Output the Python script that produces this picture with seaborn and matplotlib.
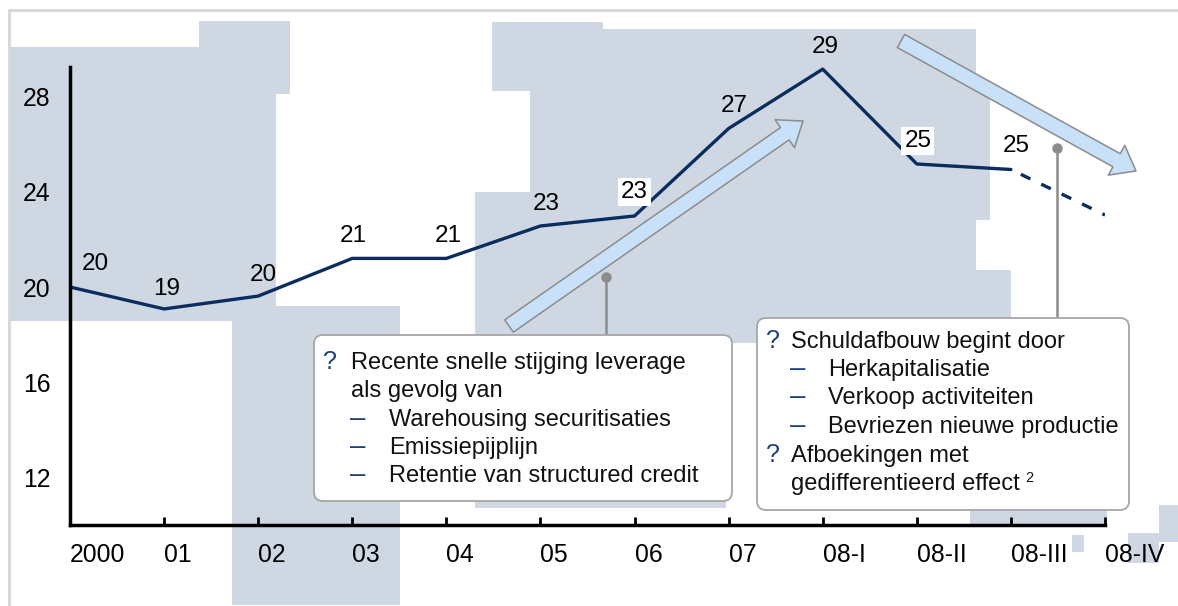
import matplotlib
matplotlib.use("Agg")
import matplotlib.pyplot as plt
import pandas as pd
import seaborn as sns
from matplotlib.lines import Line2D
from matplotlib.patches import FancyArrowPatch, FancyBboxPatch, Rectangle
from matplotlib.text import Annotation
from matplotlib.transforms import Affine2D

# --- data -------------------------------------------------------------
periods = ["2000", "01", "02", "03", "04", "05", "06", "07", "08-I", "08-II", "08-III", "08-IV"]
leverage = [20.0, 19.08, 19.62, 21.2, 21.2, 22.56, 22.98, 26.65, 29.14, 25.16, 24.93, 23.02]
value_labels = ["20", "19", "20", "21", "21", "23", "23", "27", "29", "25", "25", None]
forecast_start = 10  # 08-III -> 08-IV is projected (dashed)
y_ticks = [12, 16, 20, 24, 28]

rise_heading = ["Recente snelle stijging leverage", "als gevolg van"]
rise_items = ["Warehousing securitisaties", "Emissiepijplijn", "Retentie van structured credit"]
deleverage_heading = "Schuldafbouw begint door"
deleverage_items = ["Herkapitalisatie", "Verkoop activiteiten", "Bevriezen nieuwe productie"]
writeoff_heading = ["Afboekingen met", "gedifferentieerd effect"]
writeoff_note = "2"

# --- styling ------------------------------------------------------------
NAVY = "#0B2C5F"
BULLET = "#1C3E7C"
PATCH = "#CFD8E2"
ARROW_FILL = "#C8E0F8"
ARROW_EDGE = "#8C8C8C"
FS = 17

# label offsets in pixels (dx right, dy up) and which labels get a white backing
label_offsets = [(25, 23), (3, 20), (5, 21), (1, 22), (2, 22), (6, 22), (0, 24), (6, 22), (3, 22), (1, 23), (5, 23)]
white_labels = {6, 9}

# light grey-blue blocks behind the chart (x0, y0, x1, y1 in image pixels, top-left origin)
BG_BLOCKS = [
    (10, 47, 232, 321), (199, 21, 290, 94), (199, 94, 276, 321),
    (232, 321, 276, 605), (276, 306, 400, 605),
    (492, 22, 603, 91), (603, 29, 976, 91), (530, 91, 976, 343),
    (475, 192, 530, 508), (475, 343, 726, 508),
    (976, 90, 990, 220), (976, 270, 1011, 343),
    (970, 509, 1107, 527), (1072, 535, 1084, 552),
    (1128, 533, 1159, 563), (1159, 505, 1178, 542),
]

W, H = 1178, 606

sns.set_theme(style="white")
plt.rcParams["font.family"] = ["Liberation Sans", "DejaVu Sans"]

fig = plt.figure(figsize=(W / 100, H / 100), dpi=100)
PX = Affine2D().scale(1 / W, -1 / H).translate(0, 1) + fig.transFigure

# page frame
fig.add_artist(Line2D([9, W], [10, 10], transform=PX, color="#D9D9D9", lw=2.2, zorder=-2))
fig.add_artist(Line2D([9, 9], [10, H], transform=PX, color="#D9D9D9", lw=2.2, zorder=-2))

for x0, y0, x1, y1 in BG_BLOCKS:
    fig.add_artist(Rectangle((x0, y0), x1 - x0, y1 - y0, transform=PX,
                             facecolor=PATCH, edgecolor="none", zorder=-1))

# --- axes -----------------------------------------------------------------
ax_bottom, ax_top = 525.4, 66.5
ax = fig.add_axes([70 / W, 1 - ax_bottom / H, (1105 - 70) / W, (ax_bottom - ax_top) / H])
ax.patch.set_visible(False)

df = pd.DataFrame({"pos": range(len(periods)), "period": periods, "leverage": leverage})
sns.lineplot(data=df.iloc[:forecast_start + 1], x="pos", y="leverage",
             color=NAVY, lw=2.4, ax=ax)
sns.lineplot(data=df.iloc[forecast_start:], x="pos", y="leverage",
             color=NAVY, lw=2.4, ax=ax, linestyle=(3.5, (3.2, 3.6)))

for i, txt in enumerate(value_labels):
    if txt is None:
        continue
    dx, dy = label_offsets[i]
    bbox = dict(boxstyle="square,pad=0.12", fc="white", ec="none") if i in white_labels else None
    ax.annotate(txt, (i, leverage[i]), xytext=(dx, dy), textcoords="offset pixels",
                ha="center", va="center", fontsize=FS + 0.5, color="black", bbox=bbox,
                annotation_clip=False)

ax.set_xlim(0, len(periods) - 1)
ax.set_ylim(10, 29.25)
ax.set_xticks(range(len(periods)))
ax.set_xticklabels(periods, ha="left")
ax.set_yticks(y_ticks)
ax.set_xlabel("")
ax.set_ylabel("")
sns.despine(ax=ax)
for side in ("left", "bottom"):
    ax.spines[side].set_color("black")
    ax.spines[side].set_linewidth(2.5)
ax.tick_params(axis="x", direction="in", length=6, width=2, pad=13,
               labelsize=FS + 0.8, colors="black", bottom=True)
ax.tick_params(axis="y", length=0, pad=14, labelsize=FS + 0.8, colors="black")

# --- arrows -----------------------------------------------------------------
for tail, tip in [((509, 326), (803, 121)), ((901, 41), (1136, 171))]:
    fig.add_artist(FancyArrowPatch(
        tail, tip, transform=PX,
        arrowstyle="simple,tail_width=1.08,head_width=2.45,head_length=1.6",
        mutation_scale=10, shrinkA=0, shrinkB=0,
        facecolor=ARROW_FILL, edgecolor=ARROW_EDGE, lw=1.1, zorder=2))

# --- connectors -------------------------------------------------------------
for x, y_dot, y_box in [(606, 277, 335), (1057, 148, 318)]:
    fig.add_artist(Line2D([x, x], [y_dot, y_box], transform=PX, color="#8C8C8C", lw=1.8, zorder=2.5))
    fig.add_artist(Line2D([x], [y_dot], transform=PX, marker="o", ms=6.5,
                          color="#8C8C8C", lw=0, zorder=2.5))

# --- callout boxes ----------------------------------------------------------
def callout(x0, y0, x1, y1):
    fig.add_artist(FancyBboxPatch((x0, y0), x1 - x0, y1 - y0, transform=PX,
                                  boxstyle="round,pad=0,rounding_size=9",
                                  facecolor="white", edgecolor="#A6A6A6", lw=1.3, zorder=3))


def put(x, y, s, color="#111111", size=FS):
    return fig.text(x, y, s, transform=PX, fontsize=size, color=color,
                    va="baseline", ha="left", zorder=4)


callout(314, 335, 732, 501)
put(323, 369, "?", BULLET, FS + 1)
put(351, 369, rise_heading[0])
put(351, 397, rise_heading[1])
for k, item in enumerate(rise_items):
    yb = 426 + k * 28
    put(350, yb, "–", BULLET, FS + 3)
    put(389, yb, item)

callout(757, 318, 1129, 510)
put(766, 348, "?", BULLET, FS + 1)
put(791, 348, deleverage_heading)
for k, item in enumerate(deleverage_items):
    yb = 376 + k * 28.3
    put(790, yb, "–", BULLET, FS + 3)
    put(828, yb, item)
put(766, 462, "?", BULLET, FS + 1)
put(791, 462, writeoff_heading[0])
last = put(791, 490, writeoff_heading[1])
fig.add_artist(Annotation(writeoff_note, xy=(1, 0), xycoords=last, xytext=(6, 13),
                          textcoords="offset pixels", fontsize=10.5, color="#111111",
                          va="baseline", ha="left", zorder=4))

fig.savefig("out.png", dpi=100)
